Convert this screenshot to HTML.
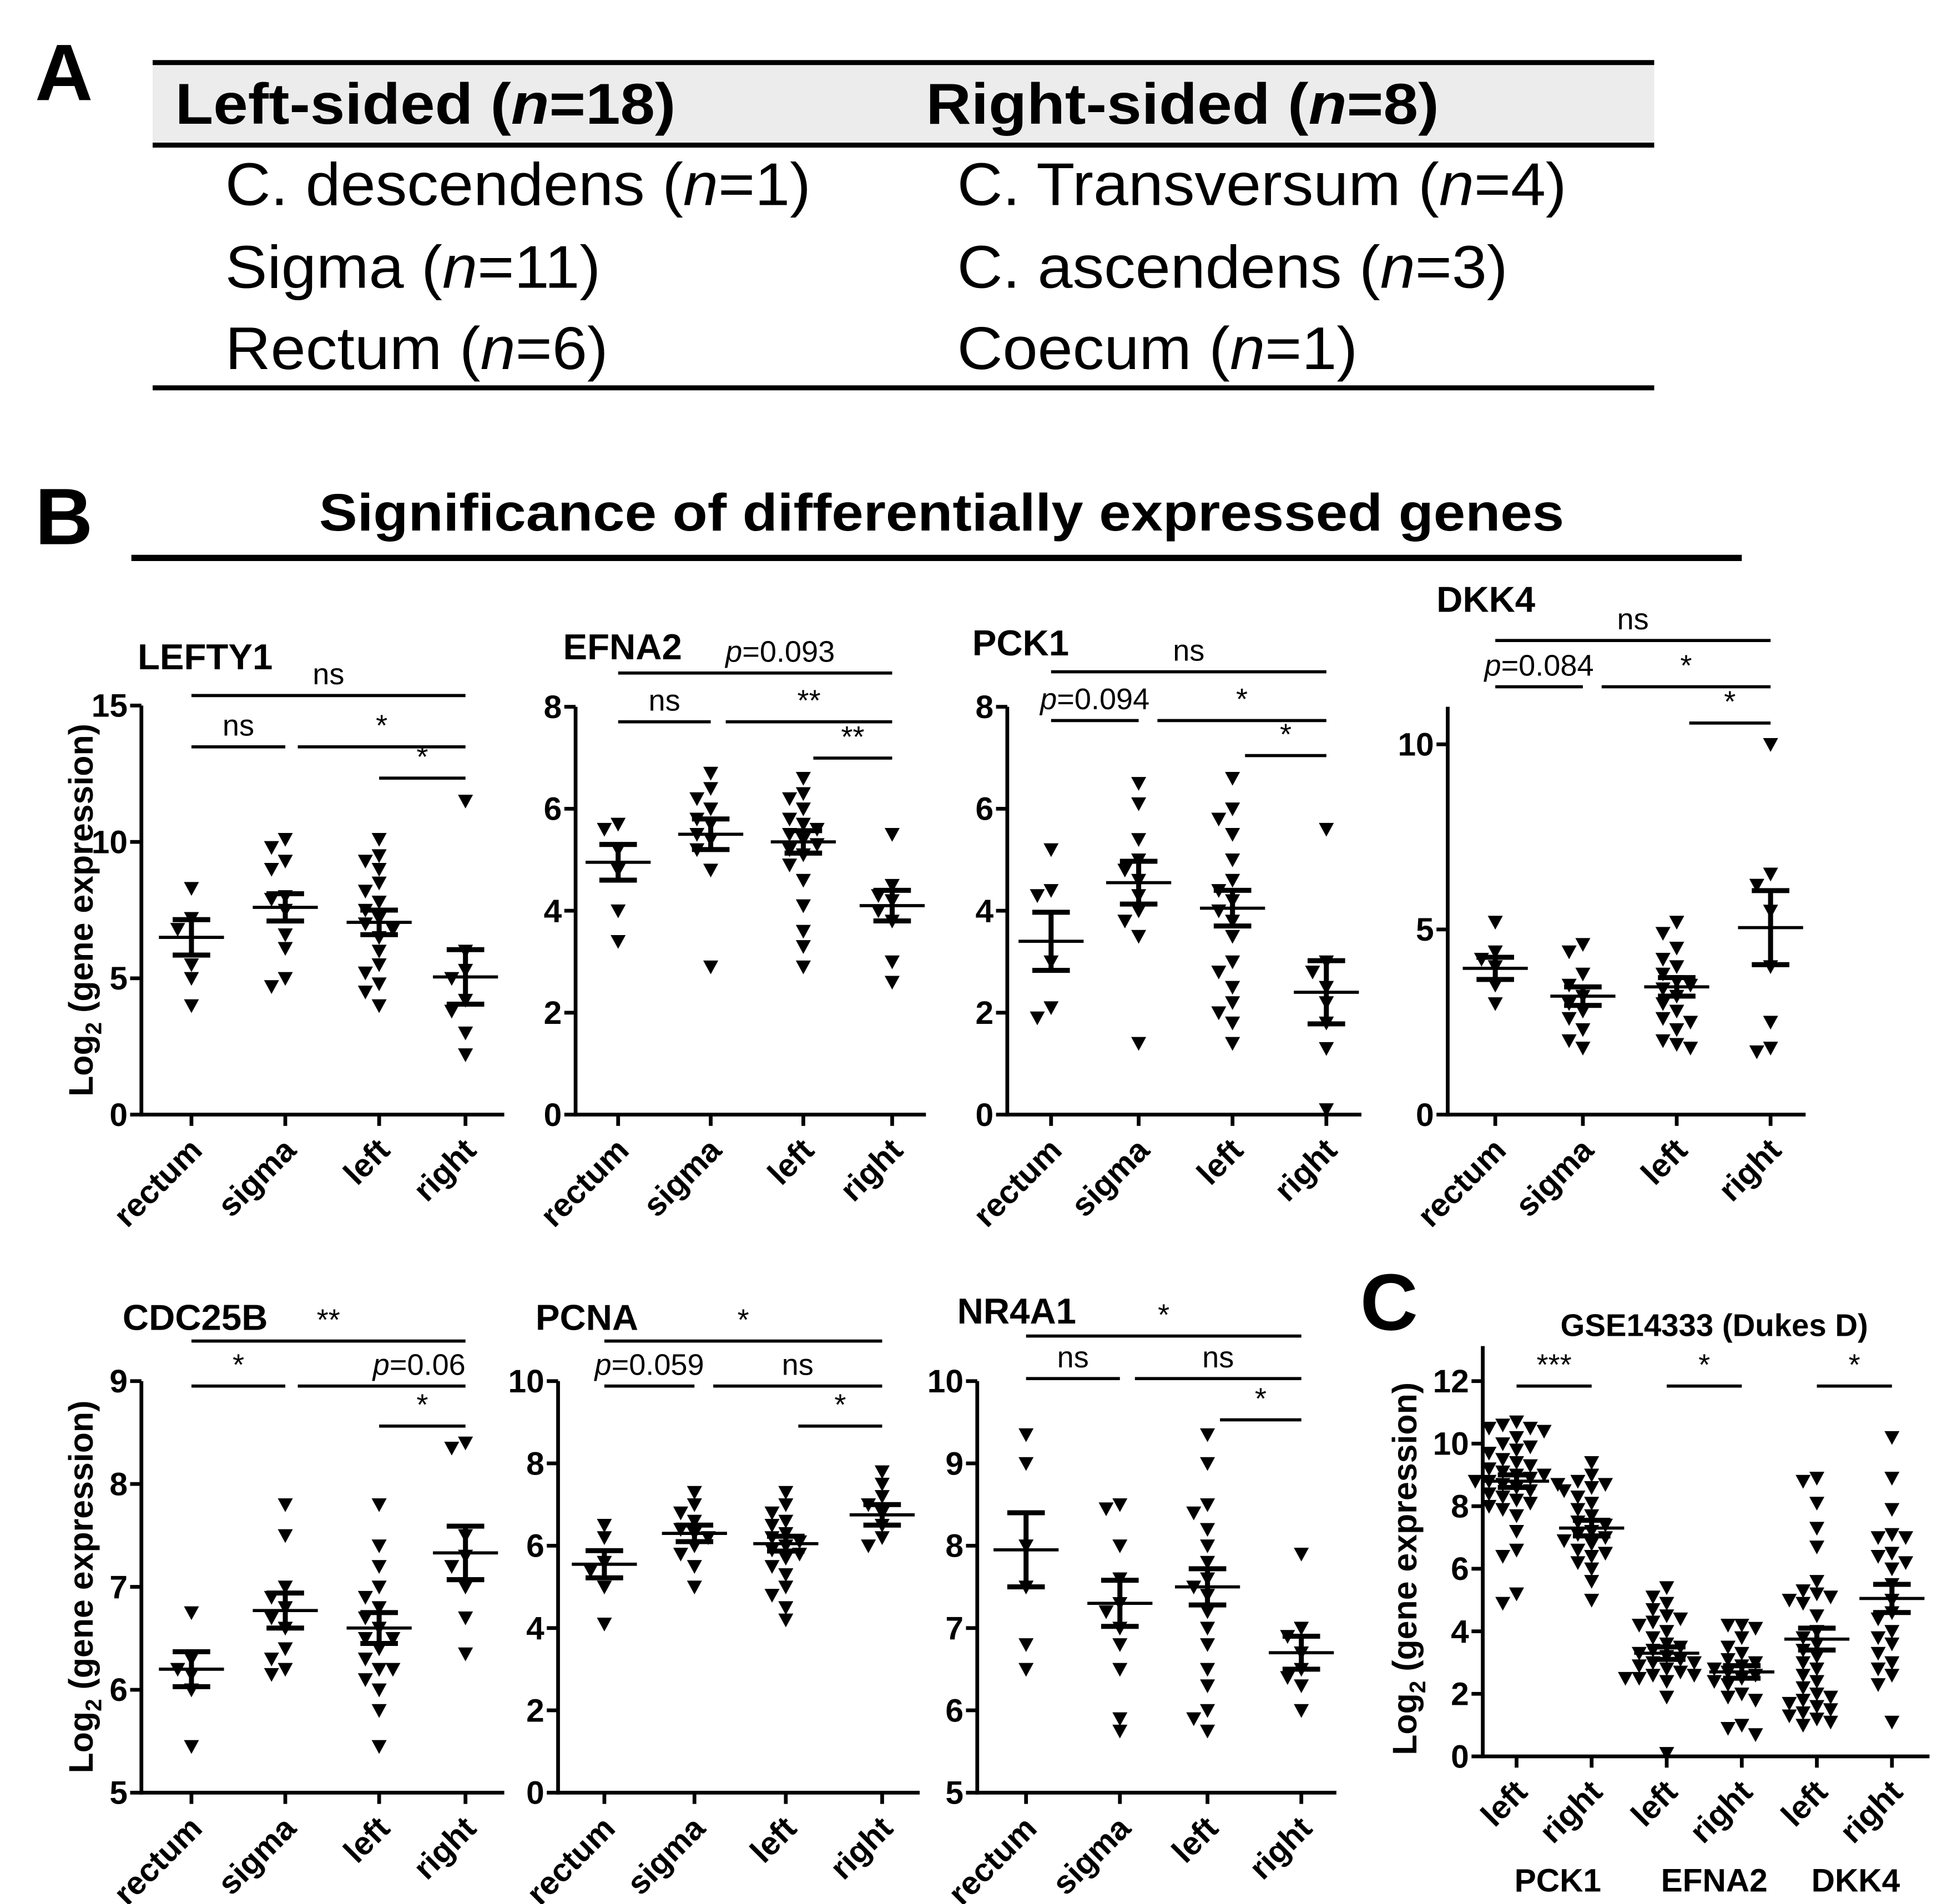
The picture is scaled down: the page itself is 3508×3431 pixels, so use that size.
<!DOCTYPE html>
<html><head><meta charset="utf-8">
<style>
html,body{margin:0;padding:0;background:#fff;}
svg{display:block;}
text{font-family:"Liberation Sans",Arial,sans-serif;fill:#000;}
</style></head>
<body>
<svg id="fig" width="3508" height="3431" viewBox="0 0 1556 1522" preserveAspectRatio="none" xmlns="http://www.w3.org/2000/svg">
<g>
<text x="28" y="80" font-size="64" font-weight="bold">A</text>
<rect x="122" y="51" width="1200" height="64" fill="#ececec"/>
<line x1="122" y1="50" x2="1322" y2="50" stroke="#000" stroke-width="4"/>
<line x1="122" y1="116" x2="1322" y2="116" stroke="#000" stroke-width="4"/>
<line x1="122" y1="310" x2="1322" y2="310" stroke="#000" stroke-width="4"/>
<text x="140" y="99" font-size="46" font-weight="bold" textLength="400" lengthAdjust="spacingAndGlyphs">Left-sided (<tspan font-style="italic">n</tspan>=18)</text>
<text x="740" y="99" font-size="46" font-weight="bold" textLength="410" lengthAdjust="spacingAndGlyphs">Right-sided (<tspan font-style="italic">n</tspan>=8)</text>
<text x="180" y="164" font-size="48" textLength="468" lengthAdjust="spacingAndGlyphs">C. descendens (<tspan font-style="italic">n</tspan>=1)</text>
<text x="180" y="230" font-size="48" textLength="300" lengthAdjust="spacingAndGlyphs">Sigma (<tspan font-style="italic">n</tspan>=11)</text>
<text x="180" y="295" font-size="48" textLength="306" lengthAdjust="spacingAndGlyphs">Rectum (<tspan font-style="italic">n</tspan>=6)</text>
<text x="765" y="164" font-size="48" textLength="487" lengthAdjust="spacingAndGlyphs">C. Transversum (<tspan font-style="italic">n</tspan>=4)</text>
<text x="765" y="230" font-size="48" textLength="440" lengthAdjust="spacingAndGlyphs">C. ascendens (<tspan font-style="italic">n</tspan>=3)</text>
<text x="765" y="295" font-size="48" textLength="320" lengthAdjust="spacingAndGlyphs">Coecum (<tspan font-style="italic">n</tspan>=1)</text>
</g>
<g>
<text x="28" y="435" font-size="64" font-weight="bold">B</text>
<text x="255" y="424" font-size="42" font-weight="bold" textLength="995" lengthAdjust="spacingAndGlyphs">Significance of differentially expressed genes</text>
<line x1="105" y1="446" x2="1392" y2="446" stroke="#000" stroke-width="5"/>
</g>
<text x="1087" y="1063" font-size="64" font-weight="bold">C</text>
</svg>
<script>
// ---- data ----
const catsB = ["rectum","sigma","left","right"];
const lefty1Vals = [[8.3,7.2,6.8,5.5,5.0,4.0],[10.1,9.8,9.3,9.0,8.0,7.9,7.5,6.6,6.1,5.0,4.7],[10.1,9.5,9.3,9.0,8.5,8.2,7.8,7.5,7.2,7.0,6.8,6.5,6.0,5.5,5.2,4.8,4.5,4.0],[11.5,6.0,5.3,5.0,4.2,3.8,3.0,2.2]];
const lefty1Mean = [6.5,7.6,7.05,5.05];
const lefty1Sem = [0.65,0.5,0.45,1.0];
const efna2Vals = [[5.7,5.6,5.2,4.8,4.0,3.4],[6.7,6.4,6.2,6.0,5.8,5.7,5.5,5.4,5.2,4.8,2.9],[6.6,6.3,6.2,6.0,5.8,5.7,5.6,5.5,5.4,5.3,5.2,5.1,4.9,4.6,4.1,3.6,3.3,2.9],[5.5,4.5,4.3,4.2,4.0,3.8,3.0,2.6]];
const efna2Mean = [4.95,5.5,5.35,4.1];
const efna2Sem = [0.35,0.3,0.22,0.3];
const pck1Vals = [[5.2,4.4,4.3,3.0,2.1,1.9],[6.5,6.1,5.4,5.0,4.8,4.6,4.3,4.0,3.8,3.5,1.4],[6.6,6.0,5.8,5.5,5.0,4.6,4.4,4.2,4.0,3.8,3.5,3.0,2.8,2.5,2.2,2.0,1.8,1.4],[5.6,3.0,2.8,2.5,2.2,1.8,1.3,0.1]];
const pck1Mean = [3.4,4.55,4.05,2.4];
const pck1Sem = [0.57,0.42,0.35,0.62];
const dkk4Vals = [[5.2,4.4,4.2,4.0,3.5,3.0],[4.6,4.4,3.8,3.5,3.2,3.0,2.8,2.6,2.3,2.0,1.8],[5.2,4.9,4.5,4.2,4.0,3.8,3.6,3.5,3.4,3.2,3.0,2.8,2.6,2.5,2.3,2.0,1.9,1.8],[10.0,6.5,6.2,5.5,4.0,2.5,1.8,1.7]];
const dkk4Mean = [3.95,3.2,3.45,5.05];
const dkk4Sem = [0.3,0.25,0.25,1.0];
const cdc25bVals = [[6.75,6.3,6.2,6.15,6.0,5.45],[7.8,7.5,7.0,6.9,6.8,6.7,6.6,6.4,6.3,6.2,6.15],[7.8,7.4,7.2,7.0,6.9,6.8,6.7,6.6,6.5,6.5,6.4,6.3,6.2,6.2,6.1,6.0,5.8,5.45],[8.4,8.35,7.5,7.3,7.2,7.0,6.7,6.35]];
const cdc25bMean = [6.2,6.77,6.6,7.33];
const cdc25bSem = [0.17,0.17,0.15,0.26];
const pcnaVals = [[6.5,6.2,5.6,5.4,5.0,4.1],[7.3,7.0,6.8,6.6,6.4,6.3,6.2,6.0,5.8,5.5,5.0],[7.3,7.0,6.8,6.6,6.5,6.3,6.2,6.1,6.0,5.9,5.8,5.7,5.5,5.3,5.0,4.8,4.5,4.2],[7.8,7.5,7.2,7.0,6.8,6.5,6.2,6.0]];
const pcnaMean = [5.55,6.3,6.05,6.75];
const pcnaSem = [0.33,0.2,0.18,0.25];
const nr4a1Vals = [[9.35,9.0,8.0,7.5,6.8,6.5],[8.5,8.45,8.0,7.6,7.3,7.2,7.0,6.8,6.5,5.9,5.75],[9.35,9.0,8.5,8.4,8.2,8.0,7.8,7.6,7.5,7.4,7.2,7.0,6.8,6.5,6.3,6.0,5.9,5.75],[7.9,7.0,6.9,6.7,6.5,6.4,6.3,6.0]];
const nr4a1Mean = [7.95,7.3,7.5,6.7];
const nr4a1Sem = [0.45,0.28,0.22,0.2];
const catsC = ["left","right","left","right","left","right"];
const genesC = ["PCK1","EFNA2","DKK4"];
const gseVals = [
 [10.7,10.6,10.5,10.5,10.4,10.2,10.0,9.9,9.8,9.7,9.5,9.4,9.3,9.2,9.1,9.0,9.0,8.9,8.8,8.8,8.7,8.7,8.6,8.5,8.4,8.3,8.2,8.1,8.0,7.9,7.7,7.2,6.6,6.4,5.2,4.9],
 [9.4,9.0,8.8,8.7,8.6,8.5,8.3,8.1,7.9,7.7,7.5,7.4,7.2,7.1,7.0,6.9,6.8,6.6,6.5,6.4,6.2,6.0,5.6,5.0],
 [5.4,5.1,4.9,4.7,4.5,4.4,4.3,4.2,4.0,3.8,3.6,3.5,3.4,3.3,3.2,3.1,3.0,3.0,2.9,2.8,2.7,2.6,2.6,2.5,2.5,2.4,1.9,0.1],
 [4.2,4.2,4.1,3.8,3.5,3.3,3.1,3.0,2.9,2.8,2.7,2.6,2.5,2.4,2.3,2.0,1.9,1.8,1.0,0.9,0.7],
 [8.9,8.8,8.1,7.3,6.7,5.6,5.3,5.2,5.1,5.0,4.9,4.5,4.0,3.8,3.6,3.4,3.2,3.0,2.8,2.6,2.4,2.2,2.0,1.9,1.8,1.7,1.6,1.5,1.4,1.3,1.2,1.1,1.0],
 [10.2,8.9,7.9,7.1,7.0,7.0,6.5,6.4,6.2,6.0,5.5,5.0,4.6,4.4,4.0,3.8,3.6,3.3,3.0,2.8,2.6,2.3,1.1]
];
const gseMean = [8.8,7.3,3.3,2.7,3.75,5.05];
const gseSem = [0.2,0.25,0.2,0.2,0.35,0.45];

const NS="http://www.w3.org/2000/svg";
const fig=document.getElementById('fig');
function mk(tag,attrs,parent){const e=document.createElementNS(NS,tag);for(const k in attrs)e.setAttribute(k,attrs[k]);(parent||fig).appendChild(e);return e;}

function plot(cfg){
  const g=mk('g',{});
  
  
  const ys=v=>cfg.y0px-(v-cfg.min)/(cfg.max-cfg.min)*(cfg.y0px-cfg.y1px);
  const xs=i=>cfg.cx[i];
  if(cfg.title){const t=mk('text',{x:cfg.titleX,y:cfg.titleY,'font-size':cfg.titleSize||29,'font-weight':'bold','text-anchor':cfg.titleAnchor||'start'},g);t.textContent=cfg.title;
  
  }
  const yax=mk('line',{x1:cfg.ax,y1:cfg.axTop,x2:cfg.ax,y2:cfg.y0px+1.5,stroke:'#000','stroke-width':3},g);
  
  
  const xax=mk('line',{x1:cfg.ax-1.5,y1:cfg.y0px,x2:cfg.axRight,y2:cfg.y0px,stroke:'#000','stroke-width':3},g);
  
  
  cfg.ticks.forEach(v=>{
    const y=ys(v);
    mk('line',{x1:cfg.ax-9,y1:y,x2:cfg.ax,y2:y,stroke:'#000','stroke-width':3},g);
    const t=mk('text',{x:cfg.ax-11,y:y+9,'font-size':26,'font-weight':'bold','text-anchor':'end'},g);t.textContent=v;
    
    
  });
  if(cfg.ylx){
  const yl=mk('text',{transform:`translate(${cfg.ylx},${(cfg.y0px+cfg.y1px)/2}) rotate(-90)`,'font-size':27,'font-weight':'bold','text-anchor':'middle'},g);
  yl.innerHTML='Log<tspan font-size="18" dy="7">2</tspan><tspan dy="-7"> (gene expression)</tspan>';
  
  
  }
  cfg.cats.forEach((c,i)=>{
    const x=xs(i);
    mk('line',{x1:x,y1:cfg.y0px,x2:x,y2:cfg.y0px+9,stroke:'#000','stroke-width':3},g);
    const t=mk('text',{transform:`translate(${x+10},${cfg.y0px+30}) rotate(-45)`,'font-size':26,'font-weight':'bold','text-anchor':'end'},g);
    t.textContent=c;
    
    
  });
  cfg.vals.forEach((arr,i)=>{
    const placed=[];
    const cx=xs(i);
    arr.forEach(v=>{
      const y=ys(v);
      const offs=[0,-11,11,-22,22,-33,33,-44,44];
      let o=0;
      for(const cand of offs){
        if(!placed.some(p=>Math.abs(p.y-y)<9&&Math.abs(p.o-cand)<11)){o=cand;break;}
      }
      placed.push({y,o});
      const x=cx+o;
      const p=mk('path',{d:`M${x-6},${y-5} L${x+6},${y-5} L${x},${y+6} Z`,fill:'#000'},g);
      
      
    });
    const m=cfg.mean[i],s=cfg.sem[i];
    const eg=mk('g',{stroke:'#000'},g);
    
    
    mk('line',{x1:cx-26,y1:ys(m),x2:cx+26,y2:ys(m),'stroke-width':2.5},eg);
    mk('line',{x1:cx,y1:ys(m+s),x2:cx,y2:ys(m-s),'stroke-width':4},eg);
    mk('line',{x1:cx-15,y1:ys(m+s),x2:cx+15,y2:ys(m+s),'stroke-width':4},eg);
    mk('line',{x1:cx-15,y1:ys(m-s),x2:cx+15,y2:ys(m-s),'stroke-width':4},eg);
  });
  // brackets: [catA, catB, yPx, label, startOffset, labelDx]
  cfg.sig.forEach(b=>{
    const x1=xs(b[0])+(b[4]||0), x2=xs(b[1]);
    const l=mk('line',{x1:x1,y1:b[2],x2:x2,y2:b[2],stroke:'#000','stroke-width':2.5},g);
    
    
    const t=mk('text',{x:(x1+x2)/2+(b[5]||0),y:b[2]-9,'font-size':24,'text-anchor':'middle'},g);
    const lab=b[3];
    if(lab.startsWith('p=')) t.innerHTML='<tspan font-style="italic">p</tspan>'+lab.slice(1);
    else t.textContent=lab;
    
    
  });
}

plot({name:'lefty1',title:'LEFTY1',titleX:110,titleY:535,cats:catsB,vals:lefty1Vals,mean:lefty1Mean,sem:lefty1Sem,
 min:0,max:15,ticks:[0,5,10,15],y0px:891,y1px:564,axTop:564,ax:113,axRight:403,cx:[153,228,303,372],ylx:74,
 sig:[[0,3,556,'ns'],[0,1,597,'ns'],[1,3,597,'*',10],[2,3,622,'*']]});
plot({name:'efna2',title:'EFNA2',titleX:450,titleY:527,cats:catsB,vals:efna2Vals,mean:efna2Mean,sem:efna2Sem,
 min:0,max:8,ticks:[0,2,4,6,8],y0px:891,y1px:565,axTop:565,ax:460,axRight:740,cx:[494,568,642,713],ylx:0,
 sig:[[0,3,538,'p=0.093',0,20],[0,1,577,'ns'],[1,3,577,'**',12],[2,3,606,'**',8]]});
plot({name:'pck1',title:'PCK1',titleX:777,titleY:524,cats:catsB,vals:pck1Vals,mean:pck1Mean,sem:pck1Sem,
 min:0,max:8,ticks:[0,2,4,6,8],y0px:891,y1px:565,axTop:565,ax:805,axRight:1088,cx:[840,910,985,1060],ylx:0,
 sig:[[0,3,537,'ns'],[0,1,576,'p=0.094'],[1,3,576,'*',15],[2,3,604,'*',10]]});
plot({name:'dkk4',title:'DKK4',titleX:1148,titleY:489,cats:catsB,vals:dkk4Vals,mean:dkk4Mean,sem:dkk4Sem,
 min:0,max:10,ticks:[0,5,10],y0px:891,y1px:595,axTop:565,ax:1157,axRight:1443,cx:[1195,1265,1340,1415],ylx:0,
 sig:[[0,3,512,'ns'],[0,1,549,'p=0.084'],[1,3,549,'*',15],[2,3,578,'*',10]]});
plot({name:'cdc25b',title:'CDC25B',titleX:98,titleY:1063,cats:catsB,vals:cdc25bVals,mean:cdc25bMean,sem:cdc25bSem,
 min:5,max:9,ticks:[5,6,7,8,9],y0px:1433,y1px:1104,axTop:1104,ax:113,axRight:403,cx:[153,228,303,372],ylx:74,
 sig:[[0,3,1072,'**'],[0,1,1108,'*'],[1,3,1108,'p=0.06',10,30],[2,3,1140,'*']]});
plot({name:'pcna',title:'PCNA',titleX:428,titleY:1063,cats:catsB,vals:pcnaVals,mean:pcnaMean,sem:pcnaSem,
 min:0,max:10,ticks:[0,2,4,6,8,10],y0px:1433,y1px:1104,axTop:1104,ax:446,axRight:735,cx:[483,555,628,705],ylx:0,
 sig:[[0,3,1072,'*'],[0,1,1108,'p=0.059'],[1,3,1108,'ns',15],[2,3,1140,'*',10]]});
plot({name:'nr4a1',title:'NR4A1',titleX:765,titleY:1058,cats:catsB,vals:nr4a1Vals,mean:nr4a1Mean,sem:nr4a1Sem,
 min:5,max:10,ticks:[5,6,7,8,9,10],y0px:1433,y1px:1104,axTop:1104,ax:781,axRight:1068,cx:[820,895,965,1040],ylx:0,
 sig:[[0,3,1068,'*'],[0,1,1102,'ns'],[1,3,1102,'ns',12],[2,3,1135,'*',10]]});
plot({name:'gse14333',title:'GSE14333 (Dukes D)',titleX:1370,titleY:1068,titleSize:25,titleAnchor:'middle',cats:catsC,vals:gseVals,mean:gseMean,sem:gseSem,
 min:0,max:12,ticks:[0,2,4,6,8,10,12],y0px:1404,y1px:1104,axTop:1076,ax:1185,axRight:1542,cx:[1212,1272,1332,1392,1452,1512],ylx:1132,
 sig:[[0,1,1108,'***'],[2,3,1108,'*'],[4,5,1108,'*']]});
genesC.forEach((gname,i)=>{
  const t=mk('text',{x:[1245,1370,1483][i],y:1512,'font-size':26,'font-weight':'bold','text-anchor':'middle'});
  t.textContent=gname;
  
  
});
</script>
</body></html>
